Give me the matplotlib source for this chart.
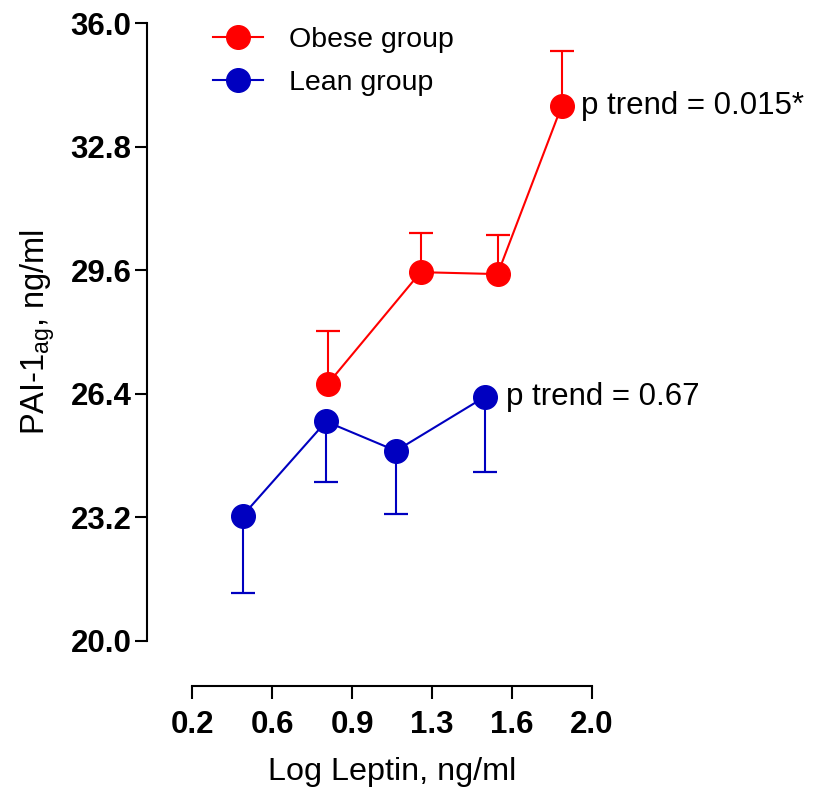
import numpy as np
import matplotlib.pyplot as plt

plt.rcParams['font.family'] = ['Liberation Sans', 'DejaVu Sans']
plt.rcParams['mathtext.fontset'] = 'custom'
plt.rcParams['mathtext.rm'] = 'Liberation Sans'
plt.rcParams['mathtext.it'] = 'Liberation Sans:italic'

# data
obese_x = np.array([0.810, 1.229, 1.576, 1.865])
obese_y = np.array([26.65, 29.55, 29.50, 33.86])
obese_err = np.array([1.38, 1.01, 1.01, 1.43])   # upper bars

lean_x = np.array([0.427, 0.803, 1.118, 1.519])
lean_y = np.array([23.24, 25.68, 24.92, 26.32])
lean_err = np.array([2.00, 1.57, 1.64, 1.96])    # lower bars

x_ticks = np.linspace(0.2, 2.0, 6)
y_ticks = np.linspace(20.0, 36.0, 6)

red = '#FF0000'
blue = '#0000C0'

fig = plt.figure(figsize=(8.13, 7.89), dpi=100)
ax = fig.add_axes([0.2365, 0.188, 0.4913, 0.7825])

# spines first (set_position resets the ticks)
for s in ['top', 'right']:
    ax.spines[s].set_visible(False)
ax.spines['left'].set_position(('outward', 32.8))
ax.spines['bottom'].set_position(('outward', 32.6))
for s in ['left', 'bottom']:
    ax.spines[s].set_linewidth(1.5)

# error bars (one sided)
ax.vlines(obese_x, obese_y, obese_y + obese_err, color=red, lw=1.5, zorder=2)
ax.plot(obese_x, obese_y + obese_err, ls='none', marker='_', ms=17, mew=1.6, color=red, zorder=2)
ax.vlines(lean_x, lean_y - lean_err, lean_y, color=blue, lw=1.5, zorder=2)
ax.plot(lean_x, lean_y - lean_err, ls='none', marker='_', ms=17, mew=1.6, color=blue, zorder=2)

ax.plot(obese_x, obese_y, '-o', color=red, lw=1.5, ms=17, label='Obese group', zorder=3, clip_on=False)
ax.plot(lean_x, lean_y, '-o', color=blue, lw=1.5, ms=17, label='Lean group', zorder=3, clip_on=False)

ax.annotate('p trend = 0.015*', (obese_x[-1], obese_y[-1]), xytext=(14, 0),
            textcoords='offset points', va='center', ha='left', fontsize=22.5)
ax.annotate('p trend = 0.67', (lean_x[-1], lean_y[-1]), xytext=(15, 0),
            textcoords='offset points', va='center', ha='left', fontsize=22.5)

ax.set_xlim(0.2, 2.0)
ax.set_ylim(20.0, 36.0)
ax.set_xticks(x_ticks)
ax.set_xticklabels([f'{v:.1f}' for v in x_ticks])
ax.set_yticks(y_ticks)
ax.set_yticklabels([f'{v:.1f}' for v in y_ticks])
ax.tick_params(axis='y', length=9, width=1.5, pad=2, labelsize=22.5)
ax.tick_params(axis='x', length=9, width=1.5, pad=8.5, labelsize=22.5)
for lab in ax.get_xticklabels() + ax.get_yticklabels():
    lab.set_fontweight('bold')

ax.set_xlabel('Log Leptin, ng/ml', fontsize=23.3, labelpad=12)
ax.set_ylabel(r'PAI-1$\mathregular{_{ag}}$, ng/ml', fontsize=23.5, labelpad=9.5)

leg = ax.legend(loc='upper left', bbox_to_anchor=(213 / 813, 1 - 27 / 789),
                bbox_transform=fig.transFigure, frameon=False, fontsize=20.5,
                handlelength=1.75, handletextpad=0.93, labelspacing=0.6,
                borderpad=0, borderaxespad=0)

fig.savefig('out.png', dpi=100)
